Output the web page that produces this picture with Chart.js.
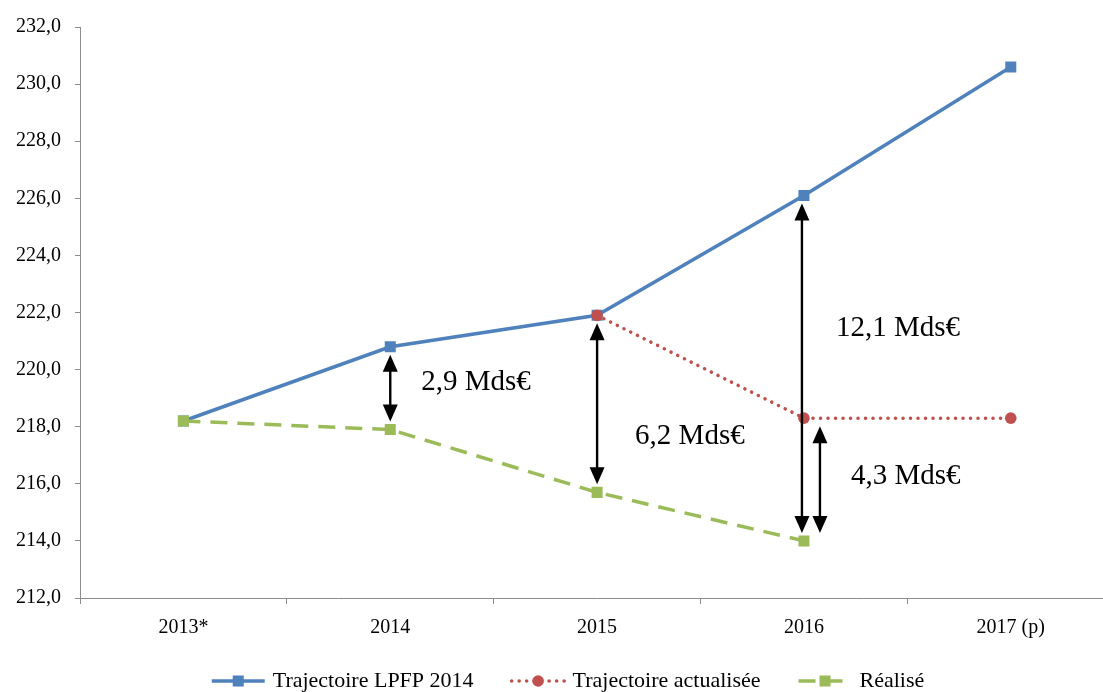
<!DOCTYPE html>
<html>
<head>
<meta charset="utf-8">
<script src="https://cdn.jsdelivr.net/npm/chart.js@4.4.1/dist/chart.umd.min.js"></script>
<style>
  html, body { margin: 0; padding: 0; overflow: hidden; background: #ffffff; }
  canvas { display: block; }
</style>
</head>
<body>
<canvas id="chart" width="1122" height="692"></canvas>
<script>
// Années et trajectoires (Mds€)
const years = ['2013*', '2014', '2015', '2016', '2017 (p)'];
const lpfp2014 = [218.2, 220.8, 221.9, 226.1, 230.6];
const actualisee = [null, null, 221.9, 218.3, 218.3];
const realise = [218.2, 217.9, 215.7, 214.0, null];

// Axe des ordonnées
const yMin = 212;
const yMax = 232;
const yStep = 2;

// Écarts fléchés : année, série haute, série basse
const ecarts = [
  { year: 1, haut: lpfp2014, bas: realise },
  { year: 2, haut: lpfp2014, bas: realise },
  { year: 3, haut: lpfp2014, bas: realise },
  { year: 3, haut: actualisee, bas: realise }
];

const SERIF = "'Liberation Serif', 'DejaVu Serif', serif";
const AXIS_GREY = '#8c8c8c';
const BLUE = '#4f81bd';
const RED = '#c0504d';
const GREEN = '#9bbb59';

const fmt = v => v.toFixed(1).replace('.', ',');

// Mise en forme des flèches et des étiquettes (décalages en pixels)
const ecartStyles = [
  { arrowDx: 0,  labelDx: 31, labelDy: -6 },
  { arrowDx: 0,  labelDx: 38, labelDy: 33 },
  { arrowDx: -2, labelDx: 32, labelDy: -40 },
  { arrowDx: 16, labelDx: 47, labelDy: -3 }
];

function drawArrow(ctx, x, y1, y2) {
  const head = 17, half = 7.5;
  ctx.save();
  ctx.strokeStyle = '#000';
  ctx.fillStyle = '#000';
  ctx.lineWidth = 2.4;
  ctx.beginPath();
  ctx.moveTo(x, y1 + head - 2);
  ctx.lineTo(x, y2 - head + 2);
  ctx.stroke();
  ctx.beginPath();
  ctx.moveTo(x, y1);
  ctx.lineTo(x - half, y1 + head);
  ctx.lineTo(x + half, y1 + head);
  ctx.closePath();
  ctx.fill();
  ctx.beginPath();
  ctx.moveTo(x, y2);
  ctx.lineTo(x - half, y2 - head);
  ctx.lineTo(x + half, y2 - head);
  ctx.closePath();
  ctx.fill();
  ctx.restore();
}

const ecartPlugin = {
  id: 'ecarts',
  afterDatasetsDraw(chart) {
    const ctx = chart.ctx;
    const xs = chart.scales.x, ys = chart.scales.y;
    const gap = 8;
    ecarts.forEach((e, k) => {
      const st = ecartStyles[k];
      const hi = e.haut[e.year], lo = e.bas[e.year];
      const cx = xs.getPixelForValue(e.year);
      const yHi = ys.getPixelForValue(hi);
      const yLo = ys.getPixelForValue(lo);
      drawArrow(ctx, cx + st.arrowDx, yHi + gap, yLo - gap);
      ctx.save();
      ctx.font = '29px ' + SERIF;
      ctx.fillStyle = '#000';
      ctx.textAlign = 'left';
      ctx.textBaseline = 'middle';
      ctx.fillText(fmt(hi - lo) + ' Mds€', cx + st.labelDx, (yHi + yLo) / 2 + st.labelDy);
      ctx.restore();
    });
  }
};

// Légende dessinée sous le graphique : trait + marqueur + libellé
const legendPlugin = {
  id: 'bottomLegend',
  afterDraw(chart) {
    const ctx = chart.ctx;
    const y = 681;
    const lineLen = 53, textGap = 8, itemGap = 38;
    ctx.save();
    ctx.font = '22px ' + SERIF;
    const items = chart.data.datasets.map(ds => ({
      text: ds.label,
      color: ds.borderColor,
      dash: ds.borderDash || [],
      cap: ds.borderCapStyle || 'butt',
      width: ds.borderWidth,
      style: ds.pointStyle,
      radius: ds.pointRadius,
      w: ctx.measureText(ds.label).width
    }));
    const total = items.reduce((s, it) => s + lineLen + textGap + it.w, 0) + itemGap * (items.length - 1);
    let x = 568 - total / 2;
    items.forEach(it => {
      ctx.strokeStyle = it.color;
      ctx.lineWidth = it.width;
      ctx.lineCap = it.cap;
      ctx.setLineDash(it.dash);
      ctx.beginPath();
      ctx.moveTo(x, y);
      ctx.lineTo(x + lineLen, y);
      ctx.stroke();
      ctx.setLineDash([]);
      const mx = x + lineLen / 2;
      ctx.fillStyle = it.color;
      ctx.beginPath();
      if (it.style === 'circle') {
        ctx.arc(mx, y, it.radius, 0, Math.PI * 2);
      } else {
        const s = it.radius * Math.SQRT1_2;
        ctx.rect(mx - s, y - s, 2 * s, 2 * s);
      }
      ctx.fill();
      ctx.fillStyle = '#000';
      ctx.textAlign = 'left';
      ctx.textBaseline = 'middle';
      ctx.fillText(it.text, x + lineLen + textGap, y);
      x += lineLen + textGap + it.w + itemGap;
    });
    ctx.restore();
  }
};

new Chart(document.getElementById('chart'), {
  type: 'line',
  data: {
    labels: years,
    datasets: [
      {
        label: 'Trajectoire LPFP 2014',
        data: lpfp2014,
        borderColor: BLUE,
        backgroundColor: BLUE,
        borderWidth: 3.5,
        pointStyle: 'rect',
        pointRadius: 7.8,
        pointBorderWidth: 0,
        tension: 0,
        order: 3
      },
      {
        label: 'Trajectoire actualisée',
        data: actualisee,
        borderColor: RED,
        backgroundColor: RED,
        borderWidth: 3.5,
        borderDash: [0.1, 7.4],
        borderCapStyle: 'round',
        pointStyle: 'circle',
        pointRadius: 5.8,
        pointBorderWidth: 0,
        tension: 0,
        order: 2
      },
      {
        label: 'Réalisé',
        data: realise,
        borderColor: GREEN,
        backgroundColor: GREEN,
        borderWidth: 3.5,
        borderDash: [17, 10],
        pointStyle: 'rect',
        pointRadius: 7.8,
        pointBorderWidth: 0,
        tension: 0,
        order: 1
      }
    ]
  },
  options: {
    responsive: false,
    animation: false,
    layout: { padding: { top: 27, right: 3, bottom: 0, left: 0 } },
    plugins: {
      legend: { display: false },
      tooltip: { enabled: false }
    },
    scales: {
      x: {
        type: 'category',
        offset: true,
        grid: {
          offset: true,
          drawOnChartArea: false,
          drawTicks: true,
          tickLength: 6,
          color: AXIS_GREY
        },
        border: { color: AXIS_GREY, width: 1 },
        ticks: {
          color: '#000',
          font: { family: SERIF, size: 20 },
          padding: 12,
          maxRotation: 0
        },
        afterFit(scale) { scale.height = 94; }
      },
      y: {
        min: yMin,
        max: yMax,
        grid: {
          drawOnChartArea: false,
          drawTicks: true,
          tickLength: 5,
          color: AXIS_GREY
        },
        border: { color: AXIS_GREY, width: 1 },
        ticks: {
          stepSize: yStep,
          color: '#000',
          font: { family: SERIF, size: 20 },
          padding: 14,
          callback: v => fmt(v)
        },
        afterFit(scale) { scale.width = 80; }
      }
    }
  },
  plugins: [ecartPlugin, legendPlugin]
});
</script>
</body>
</html>
